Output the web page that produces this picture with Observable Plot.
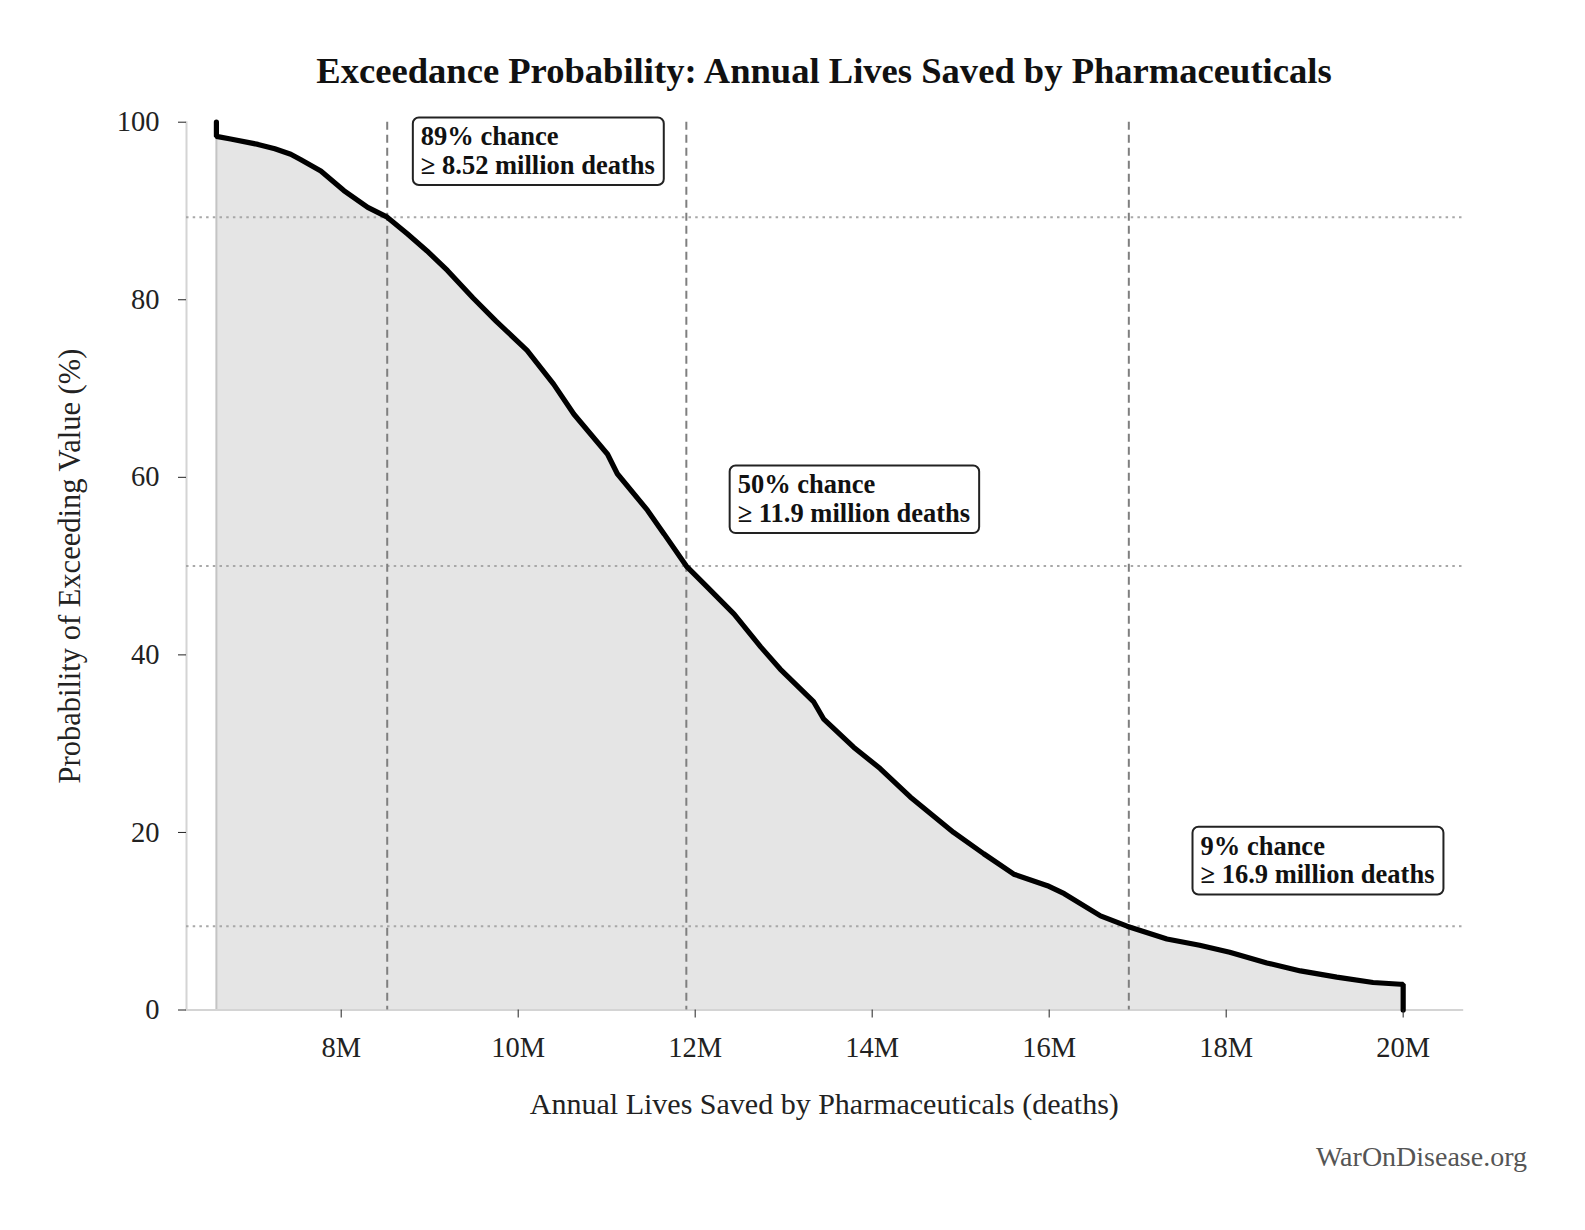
<!DOCTYPE html>
<html><head><meta charset="utf-8">
<script src="https://cdn.jsdelivr.net/npm/d3@7"></script>
<script src="https://cdn.jsdelivr.net/npm/@observablehq/plot@0.6"></script>
<style>
body{margin:0;background:#fff;font-family:"Liberation Serif","DejaVu Serif",serif;color:#111;}
#wrap{width:1585px;}
#title{height:100px;box-sizing:border-box;padding:50px 123px 0 186px;text-align:center;font-weight:bold;font-size:36.6px;line-height:42px;color:#111;}
#caption{margin-top:7px;height:40px;line-height:40px;text-align:right;padding-right:58px;font-size:28px;color:#555;}
svg{display:block;}
</style></head>
<body>
<div id="wrap">
<div id="title">Exceedance Probability: Annual Lives Saved by Pharmaceuticals</div>
<div id="chart"></div>
<div id="caption">WarOnDisease.org</div>
</div>
<script>
// Annual lives saved (millions) and exceedance probability (%)
const livesM = [6.59, 6.59, 6.75, 7.06, 7.25, 7.43, 7.54, 7.77, 8.03, 8.30, 8.52, 8.75, 8.97, 9.20, 9.49, 9.75, 10.10, 10.40, 10.63, 11.01, 11.12, 11.46, 11.65, 11.90, 12.14, 12.44, 12.74, 12.96, 13.34, 13.45, 13.79, 14.09, 14.43, 14.92, 15.26, 15.60, 15.98, 16.17, 16.58, 16.88, 17.33, 17.70, 18.04, 18.46, 18.84, 19.25, 19.66, 19.97, 20.0, 20.0];
const exceedPct = [100, 98.4, 98.1, 97.5, 97.0, 96.4, 95.8, 94.5, 92.3, 90.4, 89.3, 87.4, 85.5, 83.3, 80.2, 77.6, 74.3, 70.5, 67.1, 62.6, 60.4, 56.3, 53.6, 50.0, 47.6, 44.6, 40.9, 38.4, 34.7, 32.8, 29.6, 27.2, 24.0, 20.0, 17.6, 15.3, 14.0, 13.1, 10.6, 9.44, 8.0, 7.3, 6.5, 5.3, 4.4, 3.7, 3.1, 2.9, 2.9, 0];

// Threshold markers
const markerLivesM = [8.52, 11.9, 16.9];
const markerPct = [89.3, 50, 9.44];
const markerText = ["89% chance\n≥ 8.52 million deaths", "50% chance\n≥ 11.9 million deaths", "9% chance\n≥ 16.9 million deaths"];
const annotLivesM = [8.90, 12.48, 17.71];
const annotPct = [96.8, 57.6, 16.9];

// Axes
const xTicksM = [8, 10, 12, 14, 16, 18, 20];
const yTicks = [0, 20, 40, 60, 80, 100];
const xDomainM = [6.252, 20.667];
const xLabel = "Annual Lives Saved by Pharmaceuticals (deaths)";
const yLabel = "Probability of Exceeding Value (%)";

const curve = livesM.map((m, i) => ({x: m * 1e6, y: exceedPct[i]}));
const annots = markerText.map((t, i) => ({x: annotLivesM[i] * 1e6, y: annotPct[i], t}));

const font = '"Liberation Serif","DejaVu Serif",serif';
const plot = Plot.plot({
  width: 1585,
  height: 1030,
  marginTop: 21.7,
  marginBottom: 120.5,
  marginLeft: 186,
  marginRight: 123.3,
  style: {fontFamily: font, fontSize: "28px", color: "#222", background: "white"},
  x: {domain: xDomainM.map(d => d * 1e6)},
  y: {domain: [0, 100]},
  marks: [
    Plot.areaY(curve, {x: "x", y1: 0, y2: "y", fill: "#e5e5e5"}),
    Plot.ruleX([curve[0]], {x: "x", y1: 0, y2: () => exceedPct[1], stroke: "#c4c4c4", strokeWidth: 2}),
    Plot.frame({anchor: "left", stroke: "#d4d4d4", strokeWidth: 2}),
    Plot.frame({anchor: "bottom", stroke: "#d4d4d4", strokeWidth: 2}),
    Plot.ruleY(markerPct, {stroke: "#a8a8a8", strokeWidth: 2, strokeDasharray: "2.5,4.2"}),
    Plot.ruleX(markerLivesM.map(d => d * 1e6), {stroke: "#7f7f7f", strokeWidth: 2, strokeDasharray: "8,5"}),
    Plot.line(curve, {x: "x", y: "y", stroke: "black", strokeWidth: 5.2, strokeLinejoin: "miter"}),
    Plot.axisX({ticks: xTicksM.map(d => d * 1e6), tickFormat: d => d / 1e6 + "M", tickSize: 8, tickPadding: 19, fontSize: 28.5, label: null, stroke: "#222"}),
    Plot.axisY({ticks: yTicks, tickSize: 8, tickPadding: 19, fontSize: 28.5, label: null, stroke: "#222"}),
    Plot.text([xLabel], {frameAnchor: "bottom", dy: 104, fontSize: 30, fill: "#222"}),
    Plot.text([yLabel], {frameAnchor: "left", textAnchor: "middle", dx: -116, rotate: -90, fontSize: 30.5, fill: "#222"}),
    Plot.text(annots, {x: "x", y: "y", text: "t", textAnchor: "start", lineAnchor: "middle", lineHeight: 1.08, fontSize: 26.5, fontWeight: "bold", fill: "#111", className: "annot"})
  ]
});
document.getElementById("chart").appendChild(plot);

// rounded boxes behind annotation texts
const ns = "http://www.w3.org/2000/svg";
plot.querySelectorAll(".annot text").forEach(t => {
  const b = t.getBBox();
  const r = document.createElementNS(ns, "rect");
  r.setAttribute("x", b.x - 8);
  r.setAttribute("y", b.y - 4);
  r.setAttribute("width", b.width + 17);
  r.setAttribute("height", b.height + 9);
  r.setAttribute("rx", 6);
  r.setAttribute("fill", "white");
  r.setAttribute("stroke", "#222");
  r.setAttribute("stroke-width", 2);
  const tr = t.getAttribute("transform");
  if (tr) r.setAttribute("transform", tr);
  t.parentNode.insertBefore(r, t);
});
</script>
</body></html>
